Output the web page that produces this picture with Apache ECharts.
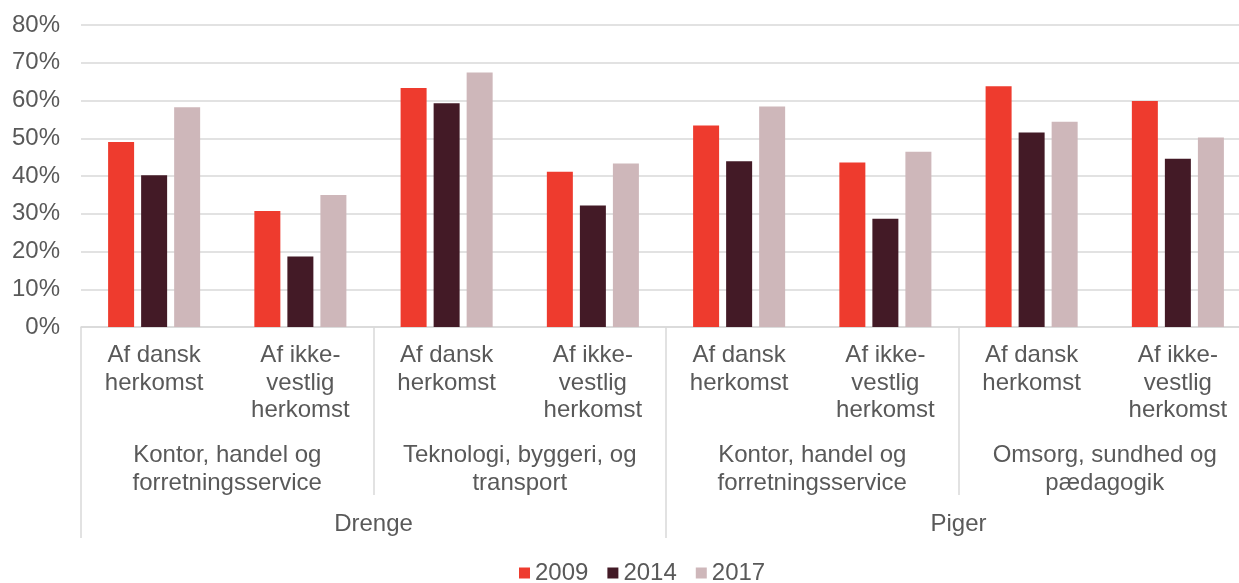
<!DOCTYPE html>
<html>
<head>
<meta charset="utf-8">
<script src="https://cdn.jsdelivr.net/npm/echarts@6/dist/echarts.min.js"></script>
<style>
  html, body { margin: 0; padding: 0; background: #fff; }
  #main { width: 1239px; height: 583px; }
</style>
</head>
<body>
<div id="main"></div>
<script>
// niveau 1: herkomst
var herkomst = [
  'Af dansk\nherkomst', 'Af ikke-\nvestlig\nherkomst',
  'Af dansk\nherkomst', 'Af ikke-\nvestlig\nherkomst',
  'Af dansk\nherkomst', 'Af ikke-\nvestlig\nherkomst',
  'Af dansk\nherkomst', 'Af ikke-\nvestlig\nherkomst'
];
// niveau 2: uddannelsesområde
var omraade = [
  'Kontor, handel og\nforretningsservice',
  'Teknologi, byggeri, og\ntransport',
  'Kontor, handel og\nforretningsservice',
  'Omsorg, sundhed og\npædagogik'
];
// niveau 3: køn
var koen = ['Drenge', 'Piger'];

var aar = ['2009', '2014', '2017'];
var v2009 = [49.0, 30.7, 63.3, 41.1, 53.4, 43.6, 63.8, 59.9];
var v2014 = [40.2, 18.7, 59.3, 32.2, 43.9, 28.7, 51.5, 44.6];
var v2017 = [58.2, 35.0, 67.4, 43.3, 58.4, 46.4, 54.4, 50.2];
var farver = ['#EE3B2E', '#431A26', '#CEB7BA'];

var tekst = '#595959';
var linje = '#D9D9D9';
var font = 'Liberation Sans, Arial, sans-serif';
var fs = 24;

var chart = echarts.init(document.getElementById('main'));

function bar(navn, data, i) {
  return {
    name: navn,
    type: 'bar',
    xAxisIndex: 0,
    data: data,
    barWidth: 26,
    barGap: '27%',
    itemStyle: { color: farver[i] }
  };
}

function etiket(margin) {
  return {
    interval: 0, margin: margin, color: tekst, fontSize: fs,
    lineHeight: 27.5, fontFamily: font, verticalAlign: 'top'
  };
}

chart.setOption({
  animation: false,
  textStyle: { fontFamily: font },
  // plotområdet går lidt ud over højre kant, som i originalen
  grid: { left: 81, top: 25, width: 1170, bottom: 256, outerBoundsMode: 'none' },
  legend: {
    data: aar,
    top: 556,
    left: 514,
    icon: 'rect',
    itemWidth: 11,
    itemHeight: 11,
    itemGap: 19,
    textStyle: { fontSize: fs, color: tekst, fontFamily: font }
  },
  xAxis: [
    {
      type: 'category',
      position: 'bottom',
      data: herkomst,
      axisLine: { show: true, lineStyle: { color: linje, width: 1.5 } },
      axisTick: { show: false },
      axisLabel: etiket(15)
    },
    {
      type: 'category',
      position: 'bottom',
      data: omraade,
      axisLine: { show: false },
      axisTick: { show: true, length: 168, lineStyle: { color: linje, width: 1.5 } },
      axisLabel: etiket(115)
    },
    {
      type: 'category',
      position: 'bottom',
      data: koen,
      axisLine: { show: false },
      axisTick: { show: true, length: 211, lineStyle: { color: linje, width: 1.5 } },
      axisLabel: etiket(184)
    }
  ],
  yAxis: {
    type: 'value',
    min: 0,
    max: 80,
    interval: 10,
    axisLine: { show: false },
    axisTick: { show: false },
    splitLine: { lineStyle: { color: linje, width: 1.5 } },
    axisLabel: {
      formatter: '{value}%', color: tekst, fontSize: fs,
      margin: 21, fontFamily: font
    }
  },
  series: [
    bar(aar[0], v2009, 0),
    bar(aar[1], v2014, 1),
    bar(aar[2], v2017, 2)
  ]
});
</script>
</body>
</html>
